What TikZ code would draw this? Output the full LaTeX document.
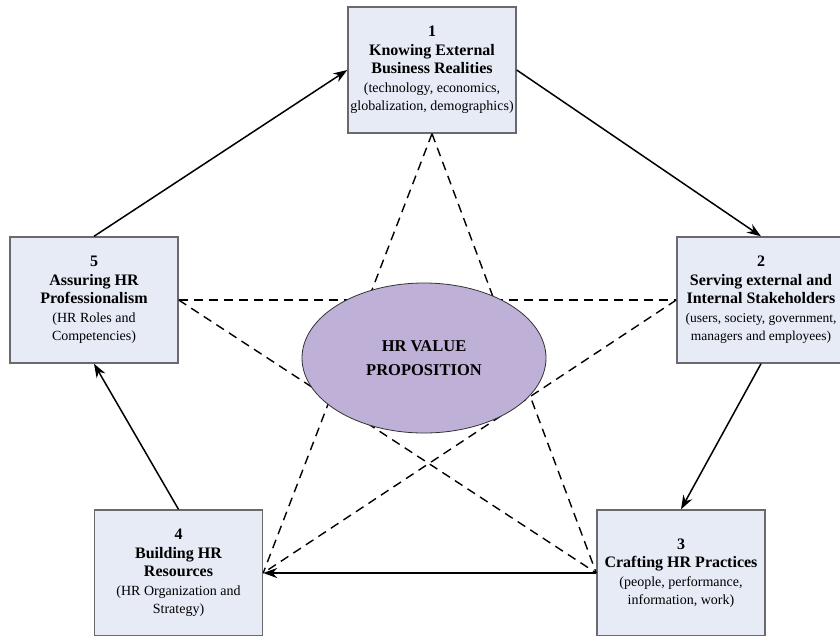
\documentclass[tikz,border=0pt]{standalone}
\usepackage{fontspec}
\setmainfont{Liberation Serif}
\usetikzlibrary{arrows.meta,shapes.geometric}

\definecolor{boxfill}{RGB}{230,235,246}
\definecolor{boxedge}{RGB}{105,105,110}
\definecolor{valuefill}{RGB}{190,176,214}

% bold heading lines inside the stage boxes
\newcommand\hd[1]{{\bfseries\fontsize{16}{18}\selectfont #1}}

\tikzset{
  stagebox/.style={draw=boxedge, fill=boxfill, line width=1.4pt,
    minimum width=168pt, minimum height=126pt, inner sep=0pt,
    align=center, font=\fontsize{14}{18.5}\selectfont},
  valuebox/.style={ellipse, draw=black!80, fill=valuefill, line width=0.8pt,
    minimum width=244pt, minimum height=150pt, inner sep=0pt,
    align=center, font=\bfseries\fontsize{16.5}{24}\selectfont},
  flow/.style={line width=1.5pt, -{Stealth[length=14pt,width=10pt]}},
  link/.style={line width=1.4pt, dash pattern=on 9pt off 6pt},
}

\begin{document}
\begin{tikzpicture}[x=1pt, y=-1pt]
  \useasboundingbox (0,0) rectangle (840,635);
  \clip (0,0) rectangle (840,635);

  % the five stages
  \node[stagebox] (s1) at (432,70)
    {\hd{1}\\ \hd{Knowing External}\\ \hd{Business Realities}\\
     (technology, economics,\\ globalization, demographics)};
  \node[stagebox, font=\fontsize{13.5}{18.5}\selectfont] (s2) at (761,300)
    {\hd{2}\\ \hd{Serving external and}\\ \hd{Internal Stakeholders}\\
     (users, society, government,\\ managers and employees)};
  \node[stagebox] (s3) at (681,573)
    {\hd{3}\\ \hd{Crafting HR Practices}\\
     (people, performance,\\ information, work)};
  \node[stagebox] (s4) at (178.5,573)
    {\hd{4}\\ \hd{Building HR}\\ \hd{Resources}\\
     (HR Organization and\\ Strategy)};
  \node[stagebox] (s5) at (94,300)
    {\hd{5}\\ \hd{Assuring HR}\\ \hd{Professionalism}\\
     (HR Roles and\\ Competencies)};

  % dashed star linking the stages
  \draw[link] (s1.south) -- (s4.east);
  \draw[link] (s1.south) -- (s3.west);
  \draw[link] (s5.east) -- (s2.west);
  \draw[link] (s5.east) -- (s3.west);
  \draw[link] (s2.west) -- (s4.east);

  % central value proposition
  \node[valuebox] (hub) at (424,358) {HR VALUE\\ PROPOSITION};

  % cycle of stages
  \draw[flow] (s1.east) -- (s2.north);
  \draw[flow] (s2.south) -- (s3.north);
  \draw[flow] (s3.west) -- (s4.east);
  \draw[flow] (s4.north) -- (s5.south);
  \draw[flow] (s5.north) -- (s1.west);
\end{tikzpicture}
\end{document}
